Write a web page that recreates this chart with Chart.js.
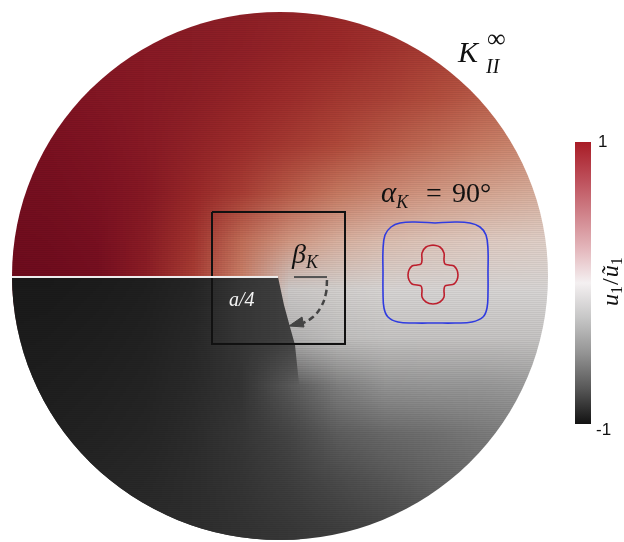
<!DOCTYPE html>
<html>
<head>
<meta charset="utf-8">
<script src="https://cdn.jsdelivr.net/npm/chart.js@4.4.1/dist/chart.umd.min.js"></script>
<style>
html, body { margin: 0; padding: 0; background: #fff; }
#wrap { width: 624px; height: 542px; }
</style>
</head>
<body>
<div id="wrap"><canvas id="chart" width="624" height="542"></canvas></div>
<script>
// u1/u~1 on a 48 px lattice (page coordinates)
const gridX = [0, 48, 96, 144, 192, 240, 288, 336, 384, 432, 480, 528, 576];
const gridY = [0, 48, 96, 144, 192, 240, 288, 336, 384, 432, 480, 528, 576];
const upperField = [
    [1.15, 1.15, 1.15, 1.13, 1.11, 1.09, 1.06, 1.02, 0.98, 0.94, 0.90, 0.86, 0.82],
    [1.18, 1.17, 1.15, 1.13, 1.11, 1.08, 1.04, 1.00, 0.95, 0.89, 0.84, 0.79, 0.75],
    [1.20, 1.19, 1.16, 1.13, 1.09, 1.04, 0.98, 0.92, 0.86, 0.79, 0.73, 0.68, 0.63],
    [1.22, 1.21, 1.18, 1.13, 1.06, 0.98, 0.90, 0.81, 0.73, 0.66, 0.59, 0.53, 0.48],
    [1.24, 1.23, 1.20, 1.14, 1.02, 0.88, 0.73, 0.61, 0.52, 0.45, 0.39, 0.34, 0.30],
    [1.26, 1.25, 1.22, 1.12, 0.94, 0.66, 0.46, 0.32, 0.23, 0.18, 0.14, 0.12, 0.10],
    [1.28, 1.27, 1.24, 1.10, 0.86, 0.55, -0.08, -0.06, -0.04, -0.04, -0.04, -0.04, -0.04],
    [-0.45, -0.45, -0.42, -0.38, -0.32, -0.24, -0.17, -0.12, -0.10, -0.10, -0.10, -0.10, -0.10],
    [-0.86, -0.85, -0.83, -0.80, -0.76, -0.70, -0.52, -0.36, -0.28, -0.27, -0.27, -0.25, -0.22],
    [-0.84, -0.83, -0.81, -0.79, -0.75, -0.69, -0.60, -0.50, -0.45, -0.42, -0.38, -0.35, -0.32],
    [-0.81, -0.80, -0.79, -0.77, -0.74, -0.70, -0.64, -0.58, -0.53, -0.48, -0.44, -0.41, -0.38],
    [-0.78, -0.78, -0.77, -0.76, -0.74, -0.71, -0.68, -0.64, -0.60, -0.55, -0.50, -0.47, -0.44],
    [-0.78, -0.78, -0.77, -0.76, -0.74, -0.71, -0.68, -0.64, -0.60, -0.55, -0.50, -0.47, -0.44]
];
// lower crack face (dark wedge), rows from y = 240 down
const lowerY = [240, 288, 336, 384, 432, 480, 528, 576];
const lowerField = [
    [-0.92, -0.91, -0.89, -0.86, -0.81, -0.72, -0.64, -0.62, -0.60, -0.60, -0.60, -0.60, -0.60],
    [-0.90, -0.89, -0.87, -0.84, -0.79, -0.69, -0.63, -0.62, -0.60, -0.60, -0.60, -0.60, -0.60],
    [-0.88, -0.87, -0.85, -0.82, -0.77, -0.69, -0.63, -0.60, -0.58, -0.58, -0.58, -0.58, -0.58],
    [-0.86, -0.85, -0.83, -0.80, -0.76, -0.70, -0.52, -0.36, -0.28, -0.27, -0.27, -0.25, -0.22],
    [-0.84, -0.83, -0.81, -0.79, -0.75, -0.69, -0.60, -0.50, -0.45, -0.42, -0.38, -0.35, -0.32],
    [-0.81, -0.80, -0.79, -0.77, -0.74, -0.70, -0.64, -0.58, -0.53, -0.48, -0.44, -0.41, -0.38],
    [-0.78, -0.78, -0.77, -0.76, -0.74, -0.71, -0.68, -0.64, -0.60, -0.55, -0.50, -0.47, -0.44],
    [-0.78, -0.78, -0.77, -0.76, -0.74, -0.71, -0.68, -0.64, -0.60, -0.55, -0.50, -0.47, -0.44]
];
const wedgeX = [0, 278, 284, 290, 295, 299, 300, 0];
const wedgeY = [277, 277, 305, 327, 345, 384, 560, 560];

const diskCenter = [280, 276];
const diskRadius = [268, 264];

const crackX = [12, 278];
const crackY = [277, 277];
const boxX = [212, 345, 345, 212, 212];
const boxY = [212, 212, 344, 344, 212];
const refLineX = [294, 327];
const refLineY = [277, 277];
const arcX = [327, 326, 321, 313, 303, 296];
const arcY = [280, 293, 307, 317, 323, 325];
const arrowX = [289, 302, 304, 289];
const arrowY = [326, 317, 327, 326];

// polar curves at alpha_K = 90 deg
const redX = [433, 440, 444, 444, 445, 449, 454, 457, 458, 457, 454, 449, 445, 444, 444, 440, 433,
              426, 422, 422, 421, 417, 412, 409, 408, 409, 412, 417, 421, 422, 422, 426, 433];
const redY = [245, 247, 253, 260, 264, 265, 266, 270, 275, 280, 284, 285, 286, 290, 297, 302, 304,
              302, 297, 290, 286, 285, 284, 280, 275, 270, 266, 265, 264, 260, 253, 247, 245];
const blueX = [435, 455, 470, 480, 486, 488, 488, 488, 487, 483, 472, 455, 435,
               415, 398, 388, 384, 383, 383, 383, 385, 391, 400, 415, 435];
const blueY = [223, 222, 223, 227, 235, 250, 272, 292, 308, 317, 322, 323, 323,
               323, 322, 317, 308, 292, 272, 250, 235, 227, 223, 222, 223];

// colour map of the field and of the colour bar
const fieldStops = [-1, -0.8, -0.6, -0.4, -0.2, 0, 0.2, 0.4, 0.6, 0.8, 1.0, 1.2, 1.3];
const fieldColors = [
    [17, 17, 17], [36, 36, 36], [70, 70, 70], [118, 118, 118], [170, 170, 170], [228, 224, 222],
    [222, 196, 184], [214, 164, 144], [200, 124, 100], [178, 76, 60], [156, 42, 42], [126, 18, 34], [104, 10, 28]
];
const barStops = [1, 0.75, 0.5, 0.25, 0, -0.25, -0.5, -0.75, -1];
const barColors = ['#a81c26', '#bc4c57', '#cf8088', '#e3b5ba', '#f4f0f1', '#c6c6c6', '#939393', '#575757', '#121212'];
const barTicks = ['1', '-1'];
const barX = [575, 591];
const barY = [142, 424];

function fieldColor(v) {
    if (v <= fieldStops[0]) return fieldColors[0];
    for (let i = 1; i < fieldStops.length; i++) {
        if (v <= fieldStops[i]) {
            const t = (v - fieldStops[i - 1]) / (fieldStops[i] - fieldStops[i - 1]);
            const a = fieldColors[i - 1], b = fieldColors[i];
            return [0, 1, 2].map(k => Math.round(a[k] + (b[k] - a[k]) * t));
        }
    }
    return fieldColors[fieldColors.length - 1];
}

function gridImage(rows) {
    const c = document.createElement('canvas');
    c.width = rows[0].length;
    c.height = rows.length;
    const g = c.getContext('2d');
    const img = g.createImageData(c.width, c.height);
    rows.forEach((row, j) => row.forEach((v, i) => {
        const col = fieldColor(v);
        const k = (j * c.width + i) * 4;
        img.data[k] = col[0];
        img.data[k + 1] = col[1];
        img.data[k + 2] = col[2];
        img.data[k + 3] = 255;
    }));
    g.putImageData(img, 0, 0);
    return c;
}

function drawGrid(ctx, sx, sy, rows, ys) {
    const half = (gridX[1] - gridX[0]) / 2;
    const left = sx.getPixelForValue(gridX[0] - half);
    const right = sx.getPixelForValue(gridX[gridX.length - 1] + half);
    const top = sy.getPixelForValue(ys[0] - half);
    const bottom = sy.getPixelForValue(ys[ys.length - 1] + half);
    ctx.imageSmoothingEnabled = true;
    ctx.drawImage(gridImage(rows), left, top, right - left, bottom - top);
}

function pts(xs, ys) {
    return xs.map((x, i) => ({ x: x, y: ys[i] }));
}

function drawPieces(ctx, x, y, pieces) {
    let cx = x;
    pieces.forEach(p => {
        ctx.font = p.font;
        ctx.fillText(p.t, cx + (p.dx || 0), y + (p.dy || 0));
        cx += ctx.measureText(p.t).width + (p.dx || 0) + (p.gap || 0);
    });
}

const fieldPlugin = {
    id: 'field',
    beforeDatasetsDraw(chart) {
        const ctx = chart.ctx;
        const sx = chart.scales.x, sy = chart.scales.y;
        const cx = sx.getPixelForValue(diskCenter[0]), cy = sy.getPixelForValue(diskCenter[1]);
        const rx = sx.getPixelForValue(diskCenter[0] + diskRadius[0]) - cx;
        const ry = sy.getPixelForValue(diskCenter[1] + diskRadius[1]) - cy;
        ctx.save();
        ctx.beginPath();
        ctx.ellipse(cx, cy, rx, ry, 0, 0, 2 * Math.PI);
        ctx.clip();
        drawGrid(ctx, sx, sy, upperField, gridY);
        ctx.save();
        ctx.beginPath();
        wedgeX.forEach((wx, i) => {
            const px = sx.getPixelForValue(wx), py = sy.getPixelForValue(wedgeY[i]);
            if (i === 0) ctx.moveTo(px, py); else ctx.lineTo(px, py);
        });
        ctx.closePath();
        ctx.clip();
        drawGrid(ctx, sx, sy, lowerField, lowerY);
        ctx.restore();
        // faint horizontal mesh streaks
        ctx.fillStyle = 'rgba(0,0,0,0.05)';
        for (let py = Math.floor(cy - ry); py < cy + ry; py += 2) {
            ctx.fillRect(cx - rx, py, 2 * rx, 1);
        }
        ctx.restore();
    }
};

const labelPlugin = {
    id: 'labels',
    afterDatasetsDraw(chart) {
        const ctx = chart.ctx;
        const sx = chart.scales.x, sy = chart.scales.y;
        const X = v => sx.getPixelForValue(v), Y = v => sy.getPixelForValue(v);
        ctx.save();
        // colour bar
        const top = Y(barY[0]), bottom = Y(barY[1]);
        const grad = ctx.createLinearGradient(0, top, 0, bottom);
        barStops.forEach((s, i) => grad.addColorStop((1 - s) / 2, barColors[i]));
        ctx.fillStyle = grad;
        ctx.fillRect(X(barX[0]), top, X(barX[1]) - X(barX[0]), bottom - top);
        ctx.fillStyle = '#111';
        ctx.font = '17px "Liberation Sans", sans-serif';
        ctx.textBaseline = 'middle';
        ctx.fillText(barTicks[0], X(598), top);
        ctx.fillText(barTicks[1], X(596), bottom + 6);
        ctx.textBaseline = 'alphabetic';

        // axis label of the bar, rotated
        ctx.save();
        ctx.translate(X(618), Y(306));
        ctx.rotate(-Math.PI / 2);
        drawPieces(ctx, 0, 0, [
            { t: 'u', font: 'italic 24px "Liberation Serif", serif' },
            { t: '1', font: '16px "Liberation Serif", serif', dy: 4, gap: 1 },
            { t: '/', font: '24px "Liberation Serif", serif', gap: 1 },
            { t: '\u0169', font: 'italic 24px "Liberation Serif", serif' },
            { t: '1', font: '16px "Liberation Serif", serif', dy: 4 }
        ]);
        ctx.restore();

        // K_II^inf
        ctx.fillStyle = '#111';
        ctx.font = 'italic 30px "Liberation Serif", serif';
        ctx.fillText('K', X(458), Y(62));
        ctx.font = '26px "Liberation Serif", serif';
        ctx.fillText('\u221e', X(487), Y(47));
        ctx.font = 'italic 20px "Liberation Serif", serif';
        ctx.fillText('II', X(486), Y(73));

        // alpha_K = 90
        drawPieces(ctx, X(381), Y(202), [
            { t: '\u03b1', font: 'italic 29px "Liberation Serif", serif' },
            { t: 'K', font: 'italic 18px "Liberation Serif", serif', dy: 6 }
        ]);
        ctx.font = '28px "Liberation Serif", serif';
        ctx.fillText('=', X(426), Y(202));
        ctx.fillText('90\u00b0', X(452), Y(202));

        // beta_K
        drawPieces(ctx, X(292), Y(263), [
            { t: '\u03b2', font: 'italic 28px "Liberation Serif", serif' },
            { t: 'K', font: 'italic 18px "Liberation Serif", serif', dy: 5 }
        ]);

        // a/4
        ctx.fillStyle = '#f4f4f4';
        ctx.font = 'italic 20px "Liberation Serif", serif';
        ctx.fillText('a/4', X(229), Y(306));
        ctx.restore();
    }
};

new Chart(document.getElementById('chart'), {
    type: 'scatter',
    data: {
        datasets: [
            { data: pts(crackX, crackY), showLine: true, borderColor: '#ececec', borderWidth: 2, pointRadius: 0 },
            { data: pts(boxX, boxY), showLine: true, borderColor: '#111111', borderWidth: 2, pointRadius: 0 },
            { data: pts(refLineX, refLineY), showLine: true, borderColor: '#555555', borderWidth: 2, pointRadius: 0 },
            { data: pts(arcX, arcY), showLine: true, borderColor: '#444444', borderWidth: 2.5, borderDash: [6, 4], tension: 0.4, pointRadius: 0 },
            { data: pts(arrowX, arrowY), showLine: true, borderColor: '#444444', backgroundColor: '#444444', borderWidth: 1, fill: 'shape', pointRadius: 0 },
            { data: pts(blueX, blueY), showLine: true, borderColor: '#2f3be0', borderWidth: 1.6, tension: 0.4, pointRadius: 0 },
            { data: pts(redX, redY), showLine: true, borderColor: '#bd1f2d', borderWidth: 1.6, tension: 0.4, pointRadius: 0 }
        ]
    },
    options: {
        responsive: false,
        animation: false,
        devicePixelRatio: 1,
        events: [],
        layout: { padding: 0, autoPadding: false },
        plugins: { legend: { display: false }, tooltip: { enabled: false } },
        scales: {
            x: { type: 'linear', min: 0, max: 624, display: false },
            y: { type: 'linear', min: 0, max: 542, reverse: true, display: false }
        }
    },
    plugins: [fieldPlugin, labelPlugin]
});
</script>
</body>
</html>
